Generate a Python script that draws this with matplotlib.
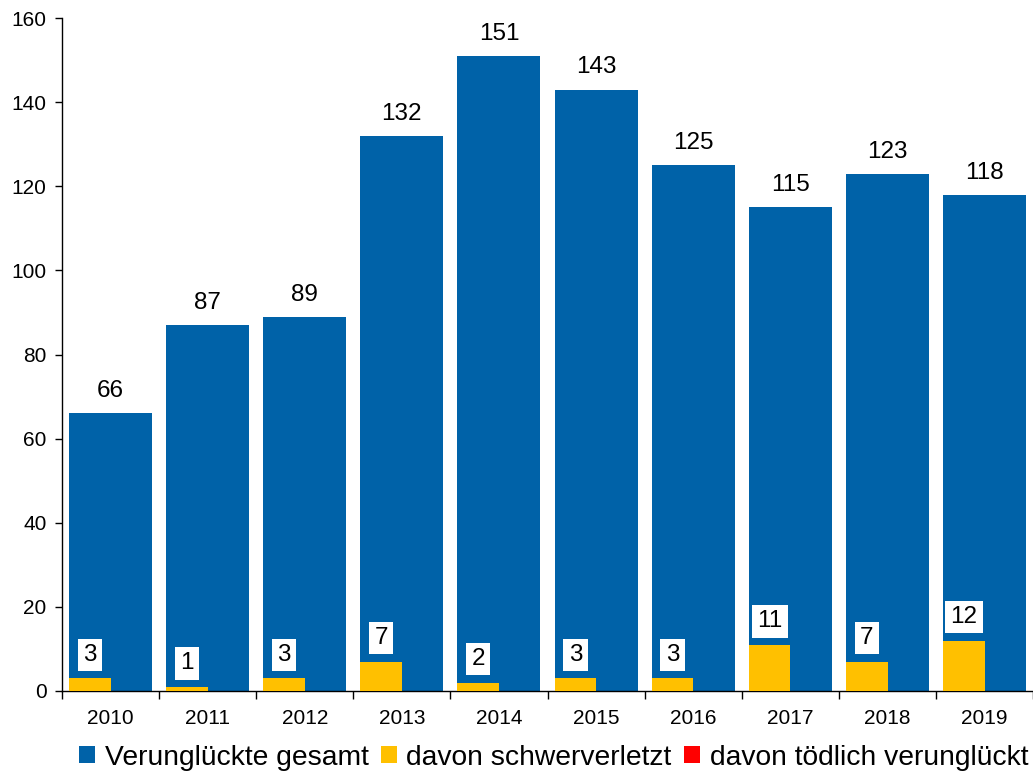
import matplotlib
matplotlib.use('Agg')
import matplotlib.pyplot as plt
import numpy as np
from matplotlib.ticker import MultipleLocator

plt.rcParams['font.family'] = ['Liberation Sans', 'DejaVu Sans']

years = ['2010', '2011', '2012', '2013', '2014', '2015', '2016', '2017', '2018', '2019']
gesamt = [66, 87, 89, 132, 151, 143, 125, 115, 123, 118]
schwer = [3, 1, 3, 7, 2, 3, 3, 11, 7, 12]
toedlich = [0, 0, 0, 0, 0, 0, 0, 0, 0, 0]

blue = '#0062A8'
yellow = '#FFC000'
red = '#FF0000'

fig = plt.figure(figsize=(10.33, 7.77), dpi=100)
ax = fig.add_axes([62/1033, 1 - 691/777, 1 - 62/1033, 673/777])

x = np.arange(len(years))
bw = 0.855
sw = 0.43
left = x - bw/2

ax.bar(x, gesamt, width=bw, color=blue, label='Verunglückte gesamt', zorder=2)
ax.bar(left, schwer, width=sw, align='edge', color=yellow, label='davon schwerverletzt', zorder=3)
ax.bar(left + sw, toedlich, width=sw, align='edge', color=red, label='davon tödlich verunglückt', zorder=3)

for xi, v in zip(x, gesamt):
    ax.annotate(str(v), (xi, v), xytext=(0, 8), textcoords='offset points',
                ha='center', va='bottom', fontsize=17.5)
for li, v in zip(left, schwer):
    ax.annotate(str(v), (li + sw/2, v), xytext=(0, 9), textcoords='offset points',
                ha='center', va='bottom', fontsize=17.5,
                bbox=dict(boxstyle='square,pad=0.22', fc='white', ec='none'), zorder=4)

ax.set_ylim(0, 160)
ax.set_xlim(-0.5, len(years) - 0.5)
ax.yaxis.set_major_locator(MultipleLocator(20))
ax.set_xticks(x)
ax.set_xticklabels(years)
ax.set_xticks(np.arange(len(years) + 1) - 0.5, minor=True)
ax.tick_params(axis='x', which='major', length=0, pad=13, labelsize=15)
ax.tick_params(axis='x', which='minor', length=6, width=1, direction='out')
ax.tick_params(axis='y', length=5, width=1, direction='out', labelsize=15, pad=6)

for s in ['top', 'right']:
    ax.spines[s].set_visible(False)
for s in ['left', 'bottom']:
    ax.spines[s].set_linewidth(1)

fig.legend(loc='lower center', bbox_to_anchor=(0.536, -0.014), ncol=3, frameon=False,
           fontsize=20.3, handlelength=0.55, handleheight=0.55, handletextpad=0.35,
           columnspacing=0.45, borderaxespad=0.2)

fig.savefig('out.png', dpi=100)
